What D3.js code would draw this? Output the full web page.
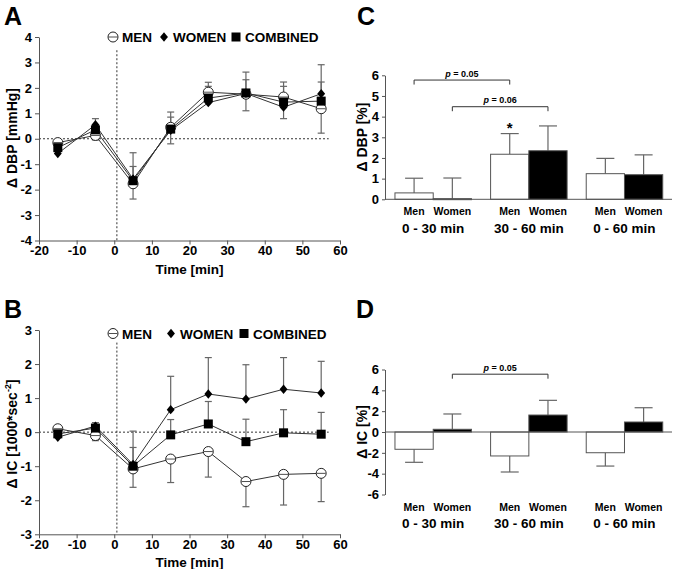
<!DOCTYPE html>
<html>
<head>
<meta charset="utf-8">
<script src="https://cdn.jsdelivr.net/npm/d3@7"></script>
<style>
  body { margin: 0; background: #fff; }
  text { font-family: "Liberation Sans", Arial, sans-serif; font-weight: bold; fill: #000; }
</style>
</head>
<body>
<div id="chart"></div>
<script>
// time points (min)
const times = [-15, -5, 5, 15, 25, 35, 45, 55];
const xTicks = [-20, -10, 0, 10, 20, 30, 40, 50, 60];

// panel A: change in DBP [mmHg]
const dbpMen = [-0.15, 0.13, -1.77, 0.45, 1.83, 1.75, 1.64, 1.18];
const dbpMenErr = [0.1, 0.18, 0.6, 0.65, 0.3, 0.65, 0.85, 0.96];
const dbpWomen = [-0.58, 0.55, -1.58, 0.33, 1.42, 1.78, 1.24, 1.77];
const dbpWomenErr = [0.12, 0.24, 1.03, 0.72, 0.8, 0.84, 0.99, 1.14];
const dbpComb = [-0.35, 0.35, -1.65, 0.38, 1.6, 1.8, 1.44, 1.48];
const dbpCombErr = [0.1, 0.15, 0.56, 0.47, 0.46, 0.52, 0.62, 0.75];
const dbpTicks = [-4, -3, -2, -1, 0, 1, 2, 3, 4];

// panel B: change in IC [1000*sec^-2]
const icMen = [0.1, -0.1, -1.08, -0.79, -0.57, -1.45, -1.24, -1.21];
const icMenErr = [0.08, 0.15, 0.54, 0.69, 0.75, 0.74, 0.9, 0.83];
const icWomen = [-0.15, 0.18, -0.95, 0.66, 1.12, 0.97, 1.26, 1.15];
const icWomenErr = [0.08, 0.1, 0.98, 0.98, 1.07, 1.01, 0.93, 0.93];
const icComb = [-0.05, 0.12, -1.0, -0.08, 0.24, -0.28, -0.02, -0.06];
const icCombErr = [0.06, 0.08, 0.55, 0.45, 0.66, 0.66, 0.68, 0.64];
const icTicks = [-3, -2, -1, 0, 1, 2, 3];

// panels C and D: bars
const periods = ["0 - 30 min", "30 - 60 min", "0 - 60 min"];
const sexes = ["Men", "Women"];
const dbpPctMen = [0.31, 2.18, 1.24];
const dbpPctMenErr = [0.71, 1.0, 0.74];
const dbpPctWomen = [0.03, 2.35, 1.19];
const dbpPctWomenErr = [1.0, 1.2, 0.96];
const dbpPctTicks = [0, 1, 2, 3, 4, 5, 6];

const icPctMen = [-1.66, -2.3, -1.99];
const icPctMenErr = [1.25, 1.54, 1.28];
const icPctWomen = [0.26, 1.63, 0.96];
const icPctWomenErr = [1.47, 1.41, 1.37];
const icPctTicks = [-6, -4, -2, 0, 2, 4, 6];

const width = 675, height = 569;
const axisColor = "#555", errColor = "#666", lineColor = "#333";
const plainNum = d => String(d); // keep hyphen-minus like the original

const svg = d3.select("#chart").append("svg")
  .attr("width", width)
  .attr("height", height);
svg.append("rect").attr("width", width).attr("height", height).attr("fill", "#fff");

function styleAxis(g) {
  g.select(".domain").attr("stroke", axisColor);
  g.selectAll(".tick line").attr("stroke", axisColor);
  g.selectAll(".tick text").style("font-size", "13px").attr("fill", "#000");
}

function marker(g, type, cx, cy) {
  if (type === "circle") {
    g.append("circle").attr("cx", cx).attr("cy", cy).attr("r", 5)
      .attr("fill", "#fff").attr("stroke", "#222").attr("stroke-width", 1);
    g.append("line").attr("x1", cx - 4.5).attr("x2", cx + 4.5).attr("y1", cy).attr("y2", cy)
      .attr("stroke", "#222").attr("stroke-width", 0.8);
  } else if (type === "diamond") {
    g.append("path").attr("d", d3.symbol(d3.symbolDiamond2, 55)())
      .attr("transform", `translate(${cx},${cy}) scale(0.85,1)`).attr("fill", "#000");
  } else {
    g.append("rect").attr("x", cx - 4.5).attr("y", cy - 4.5).attr("width", 9).attr("height", 9)
      .attr("fill", "#000");
  }
}

function linePanel(opts) {
  const { x, y, series, yTicks, vTop, legendY, legendX, ylabel } = opts;
  const g = svg.append("g");

  // dotted reference lines
  g.append("line")
    .attr("x1", x(-20)).attr("x2", x(57))
    .attr("y1", y(0)).attr("y2", y(0))
    .attr("stroke", lineColor).attr("stroke-dasharray", "2,2");
  g.append("line")
    .attr("x1", x(0.7)).attr("x2", x(0.7))
    .attr("y1", y(vTop)).attr("y2", y(y.domain()[0]))
    .attr("stroke", lineColor).attr("stroke-dasharray", "2,2");

  // error bars
  series.forEach(s => {
    s.values.forEach((v, i) => {
      const end = v + s.dir * s.err[i];
      const px = x(times[i]);
      g.append("line").attr("x1", px).attr("x2", px).attr("y1", y(v)).attr("y2", y(end))
        .attr("stroke", errColor).attr("stroke-width", 1.2);
      g.append("line").attr("x1", px - 3.5).attr("x2", px + 3.5).attr("y1", y(end)).attr("y2", y(end))
        .attr("stroke", errColor).attr("stroke-width", 1.2);
    });
  });

  // connecting lines
  const line = d3.line().x((d, i) => x(times[i])).y(d => y(d));
  series.forEach(s => {
    g.append("path").datum(s.values).attr("d", line)
      .attr("fill", "none").attr("stroke", lineColor).attr("stroke-width", 1);
  });

  // markers
  series.forEach(s => {
    s.values.forEach((v, i) => marker(g, s.type, x(times[i]), y(v)));
  });

  // axes
  g.append("g")
    .attr("transform", `translate(${x(-20)},0)`)
    .call(d3.axisLeft(y).tickValues(yTicks).tickSize(4).tickSizeOuter(0).tickFormat(plainNum))
    .call(styleAxis);
  g.append("g")
    .attr("transform", `translate(0,${y(y.domain()[0])})`)
    .call(d3.axisBottom(x).tickValues(xTicks).tickSize(4).tickSizeOuter(0).tickFormat(plainNum))
    .call(styleAxis)
    .call(a => a.selectAll(".tick text").attr("dy", "0.6em"));

  g.append("text")
    .attr("x", (x(-20) + x(60)) / 2).attr("y", y(y.domain()[0]) + 33)
    .attr("text-anchor", "middle").style("font-size", "13.5px")
    .text("Time [min]");

  // y label
  const yl = g.append("text")
    .attr("transform", `translate(17,${ylabel.y}) rotate(-90)`)
    .attr("text-anchor", "middle").style("font-size", "14px");
  ylabel.build(yl);

  // legend
  series.forEach((s, i) => {
    marker(g, s.type, legendX[i], legendY);
    g.append("text").attr("x", legendX[i] + 9).attr("y", legendY + 5)
      .style("font-size", "13.5px").text(s.name);
  });
}

// panel A
const xA = d3.scaleLinear().domain([-20, 60]).range([39, 340]);
const yA = d3.scaleLinear().domain([-4, 4]).range([240.5, 37]);
linePanel({
  x: xA, y: yA, yTicks: dbpTicks, vTop: 3.48, legendY: 37, legendX: [113, 164, 236],
  series: [
    { name: "MEN", type: "circle", values: dbpMen, err: dbpMenErr, dir: -1 },
    { name: "WOMEN", type: "diamond", values: dbpWomen, err: dbpWomenErr, dir: 1 },
    { name: "COMBINED", type: "square", values: dbpComb, err: dbpCombErr, dir: 1 }
  ],
  ylabel: { y: 138, build: t => t.text("Δ DBP [mmHg]") }
});

// panel B
const xB = d3.scaleLinear().domain([-20, 60]).range([39, 340]);
const yB = d3.scaleLinear().domain([-3, 3]).range([534.3, 330]);
linePanel({
  x: xB, y: yB, yTicks: icTicks, vTop: 2.63, legendY: 333.5, legendX: [113, 171, 244],
  series: [
    { name: "MEN", type: "circle", values: icMen, err: icMenErr, dir: -1 },
    { name: "WOMEN", type: "diamond", values: icWomen, err: icWomenErr, dir: 1 },
    { name: "COMBINED", type: "square", values: icComb, err: icCombErr, dir: 1 }
  ],
  ylabel: { y: 434, build: t => {
    t.append("tspan").text("Δ IC [1000*sec");
    t.append("tspan").attr("dy", -6).style("font-size", "9px").text("-2");
    t.append("tspan").attr("dy", 6).text("]");
  } }
});

function barPanel(opts) {
  const { y, yTicks, men, menErr, women, womenErr, brackets, stars, ylabel, labelY } = opts;
  const g = svg.append("g");
  const x0 = d3.scaleBand().domain(periods).range([385.4, 672.3]).paddingInner(0.2).paddingOuter(0.1);
  const x1 = d3.scaleBand().domain(sexes).range([0, x0.bandwidth()]);
  const rows = periods.flatMap((p, i) => [
    { period: p, sex: "Men", v: men[i], e: menErr[i] },
    { period: p, sex: "Women", v: women[i], e: womenErr[i] }
  ]);
  const cx = d => x0(d.period) + x1(d.sex) + x1.bandwidth() / 2;

  // error bars (away from zero)
  rows.forEach(d => {
    const end = d.v + Math.sign(d.v || 1) * d.e;
    g.append("line").attr("x1", cx(d)).attr("x2", cx(d)).attr("y1", y(d.v)).attr("y2", y(end))
      .attr("stroke", errColor).attr("stroke-width", 1.2);
    g.append("line").attr("x1", cx(d) - 9).attr("x2", cx(d) + 9).attr("y1", y(end)).attr("y2", y(end))
      .attr("stroke", errColor).attr("stroke-width", 1.2);
  });

  g.selectAll("rect.bar").data(rows).join("rect")
    .attr("class", "bar")
    .attr("x", d => x0(d.period) + x1(d.sex))
    .attr("width", x1.bandwidth())
    .attr("y", d => y(Math.max(0, d.v)))
    .attr("height", d => Math.max(1, Math.abs(y(d.v) - y(0))))
    .attr("fill", d => d.sex === "Men" ? "#fff" : "#000")
    .attr("stroke", "#555").attr("stroke-width", 1);

  // axes
  g.append("g")
    .attr("transform", "translate(385,0)")
    .call(d3.axisLeft(y).tickValues(yTicks).tickSize(3).tickSizeOuter(0).tickFormat(plainNum))
    .call(styleAxis);
  g.append("line").attr("x1", 385).attr("x2", 672).attr("y1", y(0)).attr("y2", y(0))
    .attr("stroke", axisColor);

  // category labels
  rows.forEach(d => {
    g.append("text").attr("x", cx(d)).attr("y", labelY[0])
      .attr("text-anchor", "middle").style("font-size", "10.5px").text(d.sex);
  });
  periods.forEach(p => {
    g.append("text").attr("x", x0(p) + x0.bandwidth() / 2).attr("y", labelY[1])
      .attr("text-anchor", "middle").style("font-size", "13.5px").text(p);
  });

  // significance brackets
  brackets.forEach(b => {
    const xa = x0(periods[b.from]) + x1(b.sex) + x1.bandwidth() / 2;
    const xb = x0(periods[b.to]) + x1(b.sex) + x1.bandwidth() / 2;
    const yy = y(b.level);
    g.append("path").attr("d", `M${xa},${yy + 4.5}V${yy}H${xb}V${yy + 4.5}`)
      .attr("fill", "none").attr("stroke", "#333").attr("stroke-width", 1);
    const t = g.append("text").attr("x", (xa + xb) / 2).attr("y", yy - 3.5)
      .attr("text-anchor", "middle").style("font-size", "9px");
    t.append("tspan").style("font-style", "italic").text("p");
    t.append("tspan").text(" = " + b.p);
  });
  stars.forEach(s => {
    g.append("text").attr("x", x0(periods[s.period]) + x1(s.sex) + x1.bandwidth() / 2)
      .attr("y", y(s.level) + 8).attr("text-anchor", "middle").style("font-size", "15px").text("*");
  });

  g.append("text")
    .attr("transform", `translate(367,${ylabel.y}) rotate(-90)`)
    .attr("text-anchor", "middle").style("font-size", "14px").text(ylabel.text);
}

// panel C
const yC = d3.scaleLinear().domain([0, 6]).range([199.3, 75.3]);
barPanel({
  y: yC, yTicks: dbpPctTicks,
  men: dbpPctMen, menErr: dbpPctMenErr, women: dbpPctWomen, womenErr: dbpPctWomenErr,
  brackets: [
    { from: 0, to: 1, sex: "Men", level: 5.77, p: "0.05" },
    { from: 0, to: 1, sex: "Women", level: 4.48, p: "0.06" }
  ],
  stars: [{ period: 1, sex: "Men", level: 3.6 }],
  ylabel: { y: 137, text: "Δ DBP [%]" },
  labelY: [215, 233]
});

// panel D
const yD = d3.scaleLinear().domain([-6, 6]).range([494.5, 369.5]);
barPanel({
  y: yD, yTicks: icPctTicks,
  men: icPctMen, menErr: icPctMenErr, women: icPctWomen, womenErr: icPctWomenErr,
  brackets: [{ from: 0, to: 1, sex: "Women", level: 5.55, p: "0.05" }],
  stars: [],
  ylabel: { y: 432, text: "Δ IC [%]" },
  labelY: [510.5, 528]
});

// panel letters
[["A", 4, 25], ["B", 4, 318], ["C", 357, 25], ["D", 356, 318]].forEach(([l, lx, ly]) => {
  svg.append("text").attr("x", lx).attr("y", ly).style("font-size", "25px").text(l);
});
</script>
</body>
</html>
